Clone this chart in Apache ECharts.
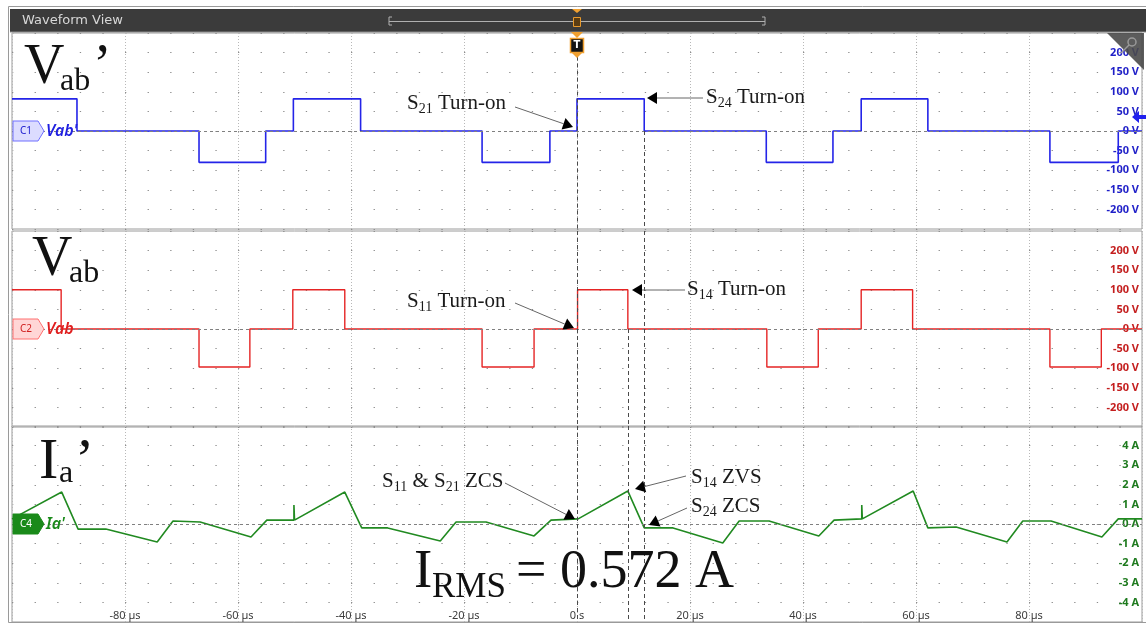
<!DOCTYPE html>
<html><head><meta charset="utf-8">
<script src="https://cdn.jsdelivr.net/npm/echarts@6/dist/echarts.min.js"></script>
<style>html,body{margin:0;padding:0;background:#fff}#c{width:1146px;height:627px}</style>
</head><body><div id="c"></div>
<script>
// ---- data (time in µs) ----
const timeRange = [-100, 100];
const timeInterval = 20;
// Vab' (blue): level holds from each time until the next
const vabPrimeT = [-100, -88.5, -66.9, -55.1, -50.2, -38.3, -16.8, -4.8, 0, 11.9, 33.5, 45.3, 50.3, 62.1, 83.7, 95.8, 100];
const vabPrimeV = [82, 0, -80, 0, 82, 0, -80, 0, 82, 0, -80, 0, 82, 0, -80, 0, 0];
// Vab (red)
const vabT = [-100, -91.3, -66.9, -57.9, -50.3, -41.1, -16.8, -7.6, 0.1, 9.0, 33.6, 42.7, 50.3, 59.4, 83.7, 92.8, 100];
const vabV = [100, 0, -97, 0, 100, 0, -97, 0, 100, 0, -97, 0, 100, 0, -97, 0, 0];
// Ia' (green)
const iaT = [-100, -91.2, -88.3, -83.4, -74.3, -71.5, -66.7, -57.7, -54.9, -50.1, -50.1, -50.0, -41.1, -38.1, -33.5, -24.2, -21.4, -16.1, -7.6, -4.6, 0.2, 9.0, 11.9, 17.0, 25.8, 28.7, 34.0, 42.8, 45.5, 50.4, 50.4, 50.5, 59.5, 62.1, 67.1, 76.1, 78.9, 83.9, 92.9, 95.8, 100];
const iaV = [0.26, 1.63, -0.26, -0.26, -0.92, 0.15, 0.10, -0.66, 0.20, 0.20, 0.97, 0.20, 1.63, -0.20, -0.20, -0.87, 0.10, 0.10, -0.61, 0.20, 0.26, 1.68, -0.20, -0.20, -0.97, 0.15, 0.15, -0.61, 0.20, 0.26, 0.97, 0.26, 1.68, -0.20, -0.15, -0.92, 0.15, 0.15, -0.66, 0.26, 0.26];
// axis ranges
const voltRange = [-250, 250], voltInterval = 50;
const ampRange = [-5, 5], ampInterval = 1;
// cursor times (S11/S21 turn-on, S14 turn-on, S24 turn-on)
const cursorTimes = [0, 9.0, 11.9];

const zip = (a, b) => a.map((t, i) => [t, b[i]]);

const chart = echarts.init(document.getElementById('c'), null, {renderer: 'canvas'});
const grids = [
  {left: 12, right: 4, top: 33, height: 196},
  {left: 12, right: 4, top: 231, height: 196},
  {left: 12, right: 4, top: 426, height: 196}
].map(g => Object.assign(g, {show: true, borderColor: '#9a9a9a', borderWidth: 1, backgroundColor: 'transparent'}));

function xAx(i) {
  return {
    type: 'value', gridIndex: i, min: timeRange[0], max: timeRange[1], interval: timeInterval,
    axisLine: {show: false}, axisTick: {show: false},
    axisLabel: {show: i === 2, inside: true, margin: 1, fontSize: 11, color: '#3c3c3c', fontFamily: 'Noto Sans',
      showMinLabel: false, showMaxLabel: false,
      formatter: v => v === 0 ? '0 s' : v + ' µs'},
    splitLine: {show: true, lineStyle: {color: '#b8b8b8', width: 1, type: [1, 2]}}
  };
}
function yAx(i, range, interval, unit, color) {
  return {
    type: 'value', gridIndex: i, position: 'right', min: range[0], max: range[1], interval: interval,
    axisLine: {show: false}, axisTick: {show: false},
    axisLabel: {inside: true, margin: 3, fontSize: 11, fontWeight: 'bold', color: color, fontFamily: 'Noto Sans',
      showMinLabel: false, showMaxLabel: false, formatter: v => v + ' ' + unit},
    splitLine: {show: true, lineStyle: {color: '#8c8c8c', width: 1.2, type: [1.3, 21.3]}}
  };
}
const zeroLine = {yAxis: 0, lineStyle: {color: '#808080', type: [3, 3], width: 1}};
const curStyle = {color: '#4a4a4a', type: [4, 3], width: 1};
function cur(t, y1, y2) { return [{coord: [t, y1], lineStyle: curStyle}, {coord: [t, y2]}]; }

const option = {
  animation: false,
  grid: grids,
  xAxis: [xAx(0), xAx(1), xAx(2)],
  yAxis: [yAx(0, voltRange, voltInterval, 'V', '#1f1fc8'), yAx(1, voltRange, voltInterval, 'V', '#c41e1e'), yAx(2, ampRange, ampInterval, 'A', '#1e7a1e')],
  series: [
    {type: 'line', name: "Vab'", xAxisIndex: 0, yAxisIndex: 0, step: 'end', showSymbol: false, data: zip(vabPrimeT, vabPrimeV),
      lineStyle: {color: '#2424e8', width: 1.6}, z: 3,
      markLine: {silent: true, symbol: 'none', label: {show: false}, data: [zeroLine, cur(cursorTimes[0], 190, -250), cur(cursorTimes[2], 0, -250)]}},
    {type: 'line', name: 'Vab', xAxisIndex: 1, yAxisIndex: 1, step: 'end', showSymbol: false, data: zip(vabT, vabV),
      lineStyle: {color: '#e52424', width: 1.4}, z: 3,
      markLine: {silent: true, symbol: 'none', label: {show: false}, data: [zeroLine, cur(cursorTimes[0], 250, -250), cur(cursorTimes[1], 0, -250), cur(cursorTimes[2], 250, -250)]}},
    {type: 'line', name: "Ia'", xAxisIndex: 2, yAxisIndex: 2, showSymbol: false, data: zip(iaT, iaV),
      lineStyle: {color: '#218a21', width: 1.6}, z: 3,
      markLine: {silent: true, symbol: 'none', label: {show: false}, data: [zeroLine, cur(cursorTimes[0], 5, -5), cur(cursorTimes[1], 5, -5), cur(cursorTimes[2], 5, -5)]}}
  ]
};
chart.setOption(option);

// ---- decorations ----
const SERIF = 'Liberation Serif';
function txt(x, y, text, size, opts) {
  return Object.assign({type: 'text', z: 50, style: Object.assign({x: x, y: y, text: text, fontSize: size, fontFamily: SERIF, fill: '#111', verticalAlign: 'middle', align: 'left'}, opts || {})});
}
const rich = {
  n: {fontSize: 21, fontFamily: SERIF, fill: '#1a1a1a'},
  b: {fontSize: 14, fontFamily: SERIF, fill: '#1a1a1a', padding: [12, 0, 0, 0]}
};
function ann(x, baseline, text) {
  return {type: 'text', z: 50, style: {x: x, y: baseline - 7, text: text, rich: rich, verticalAlign: 'middle', align: 'left'}};
}
function arrow(x1, y1, x2, y2) {
  const dx = x2 - x1, dy = y2 - y1, L = Math.hypot(dx, dy), ux = dx / L, uy = dy / L;
  const hl = 10, hw = 6, bx = x2 - ux * hl, by = y2 - uy * hl;
  return [
    {type: 'line', z: 50, shape: {x1: x1, y1: y1, x2: bx, y2: by}, style: {stroke: '#666', lineWidth: 1}},
    {type: 'polygon', z: 50, shape: {points: [[x2, y2], [bx - uy * hw, by + ux * hw], [bx + uy * hw, by - ux * hw]]}, style: {fill: '#000'}}
  ];
}
function tag(y, fill, stroke, label, labelColor, name, nameColor) {
  const x = 13;
  return [
    {type: 'polygon', z: 40, shape: {points: [[x, y - 10], [x + 25, y - 10], [x + 31, y], [x + 25, y + 10], [x, y + 10]]},
      style: {fill: fill, stroke: stroke, lineWidth: 1}},
    {type: 'text', z: 41, style: {x: x + 13, y: y, text: label, fontSize: 10, fontFamily: 'Noto Sans', fill: labelColor, align: 'center', verticalAlign: 'middle'}},
    {type: 'text', z: 41, style: {x: x + 33, y: y, text: name, fontSize: 16, fontStyle: 'italic', fontWeight: 600, fontFamily: 'Noto Sans', fill: nameColor, align: 'left', verticalAlign: 'middle'}}
  ];
}
const y0 = [0, 1, 2].map(i => chart.convertToPixel({yAxisIndex: i}, 0));

let g = [];
// frame and header
g.push({type: 'rect', z: 30, shape: {x: 8.5, y: 6.5, width: 1140, height: 616}, style: {fill: null, stroke: '#9a9a9a', lineWidth: 1}});
g.push({type: 'rect', z: 31, shape: {x: 10, y: 9, width: 1136, height: 23}, style: {fill: '#3b3b3b'}});
g.push({type: 'line', z: 32, shape: {x1: 10, y1: 32, x2: 1146, y2: 32}, style: {stroke: '#8a8a8a', lineWidth: 1}});
g.push({type: 'text', z: 33, style: {x: 22, y: 21, text: 'Waveform View', fontSize: 13, fontFamily: 'DejaVu Sans', fill: '#d8d8d8', verticalAlign: 'middle'}});
g.push({type: 'polyline', z: 33, shape: {points: [[392, 17], [389, 17], [389, 25], [392, 25]]}, style: {stroke: '#b0b0b0', fill: null}});
g.push({type: 'polyline', z: 33, shape: {points: [[762, 17], [765, 17], [765, 25], [762, 25]]}, style: {stroke: '#b0b0b0', fill: null}});
g.push({type: 'line', z: 33, shape: {x1: 389, y1: 21.5, x2: 765, y2: 21.5}, style: {stroke: '#b0b0b0', lineWidth: 1}});
g.push({type: 'polygon', z: 34, shape: {points: [[572, 9], [582, 9], [577, 13]]}, style: {fill: '#f0a030'}});
g.push({type: 'rect', z: 34, shape: {x: 573.5, y: 17.5, width: 7, height: 9}, style: {fill: '#5a3c12', stroke: '#e89a2c'}});
// trigger marker
g.push({type: 'polygon', z: 34, shape: {points: [[571, 32], [583, 32], [577, 38]]}, style: {fill: '#f0a030'}});
g.push({type: 'rect', z: 34, shape: {x: 570.5, y: 38.5, width: 13, height: 14}, style: {fill: '#141414', stroke: '#f0a030', lineWidth: 1.5}});
g.push({type: 'text', z: 35, style: {x: 577, y: 45.5, text: 'T', fontSize: 10, fontWeight: 'bold', fontFamily: 'DejaVu Sans', fill: '#fff', align: 'center', verticalAlign: 'middle'}});
g.push({type: 'polygon', z: 34, shape: {points: [[572, 53], [582, 53], [577, 58]]}, style: {fill: '#f0a030'}});
// corner
g.push({type: 'polygon', z: 34, shape: {points: [[1107, 33], [1144, 33], [1144, 70]]}, style: {fill: '#4a4a4a', opacity: 0.9}});
g.push({type: 'circle', z: 35, shape: {cx: 1132, cy: 42, r: 4}, style: {fill: null, stroke: '#9a9a9a', lineWidth: 1.5}});
g.push({type: 'line', z: 35, shape: {x1: 1129, y1: 45, x2: 1121, y2: 53}, style: {stroke: '#9a9a9a', lineWidth: 1.5}});
// blue offset arrow
g.push({type: 'polygon', z: 35, shape: {points: [[1132, 117], [1139, 111], [1139, 115], [1146, 115], [1146, 119], [1139, 119], [1139, 123]]}, style: {fill: '#2020ee'}});
// channel tags
g = g.concat(tag(y0[0], '#dcdcff', '#7070ff', 'C1', '#2020d0', "Vab'", '#2020e0'));
g = g.concat(tag(y0[1], '#ffd6d6', '#ff7070', 'C2', '#d02020', 'Vab', '#e02020'));
g = g.concat(tag(y0[2], '#1a8a1a', '#1a8a1a', 'C4', '#ffffff', "Ia'", '#1a8a1a'));
// big labels
g.push(txt(24, 68, 'V', 56));
g.push(txt(60, 82, 'ab', 32));
g.push(txt(93, 68, '\u2019', 56));
g.push(txt(32, 260, 'V', 56));
g.push(txt(69, 274, 'ab', 32));
g.push(txt(39, 463, 'I', 58));
g.push(txt(59, 474, 'a', 32));
g.push(txt(75, 463, '\u2019', 58));
g.push(txt(414, 573, 'I', 55));
g.push(txt(432, 588, 'RMS', 35));
g.push(txt(516, 573, '= 0.572 A', 54));
// annotations
g.push(ann(407, 110, '{n|S}{b|21}{n| Turn-on}'));
g = g.concat(arrow(515, 107, 573, 127));
g.push(ann(706, 104, '{n|S}{b|24}{n| Turn-on}'));
g = g.concat(arrow(703, 98, 647, 98));
g.push(ann(407, 308, '{n|S}{b|11}{n| Turn-on}'));
g = g.concat(arrow(515, 303, 574, 328));
g.push(ann(687, 296, '{n|S}{b|14}{n| Turn-on}'));
g = g.concat(arrow(685, 290, 632, 290));
g.push(ann(382, 488, '{n|S}{b|11}{n| & S}{b|21}{n| ZCS}'));
g = g.concat(arrow(505, 483, 575, 519));
g.push(ann(691, 484, '{n|S}{b|14}{n| ZVS}'));
g = g.concat(arrow(686, 476, 635, 489));
g.push(ann(691, 513, '{n|S}{b|24}{n| ZCS}'));
g = g.concat(arrow(687, 508, 649, 525));

chart.setOption({graphic: g});
</script>
</body></html>
